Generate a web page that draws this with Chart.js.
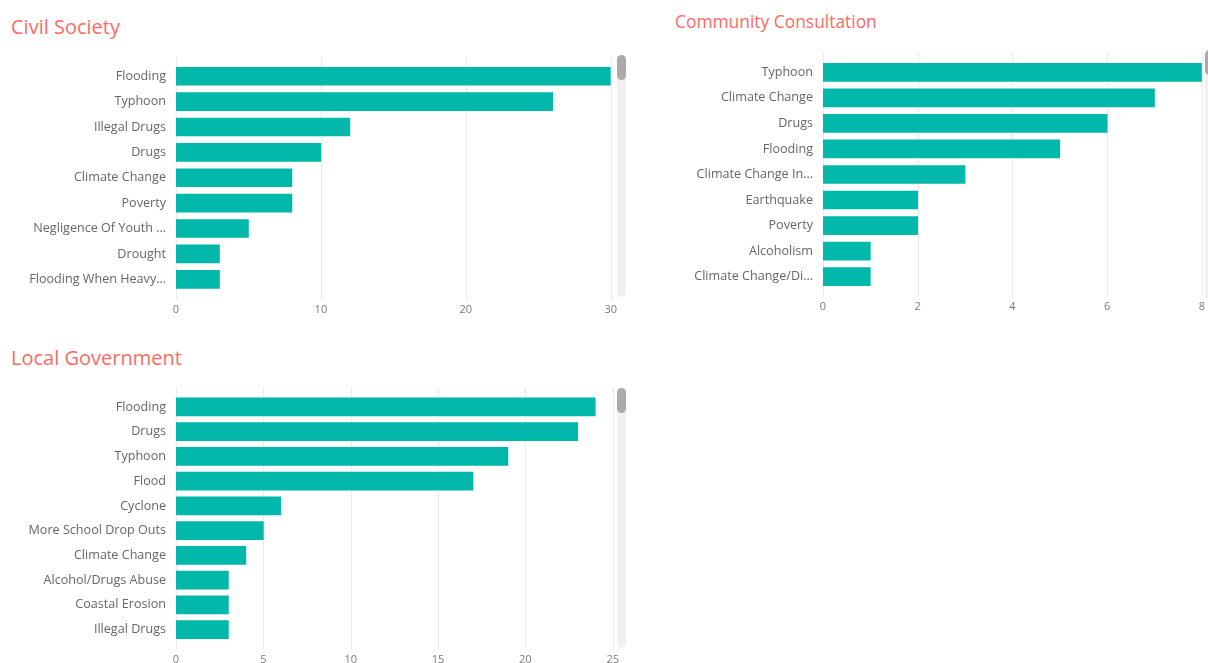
<!DOCTYPE html>
<html>
<head>
<meta charset="utf-8">
<script src="https://cdn.jsdelivr.net/npm/chart.js@4.4.1/dist/chart.umd.min.js"></script>
<style>
  html,body{margin:0;padding:0;background:#fff;width:1208px;height:663px;overflow:hidden;position:relative;font-family:"Open Sans",sans-serif}
  .title{position:absolute;color:#fd6a66;white-space:nowrap;line-height:1}
  .box{position:absolute}
  .track{position:absolute;width:9px;background:#f1f1f1;border-radius:5px}
  .thumb{position:absolute;left:0;top:0;width:9px;height:25px;background:#ababab;border-radius:5px}
</style>
</head>
<body>

<div class="title" style="left:11px;top:17px;font-size:20px">Civil Society</div>
<div class="title" style="left:675px;top:13px;font-size:17.4px">Community Consultation</div>
<div class="title" style="left:11px;top:348px;font-size:20px">Local Government</div>

<div class="box" style="left:0;top:45.6px;width:628px;height:276px"><canvas id="civil"></canvas></div>
<div class="box" style="left:660px;top:41.7px;width:556px;height:277.4px"><canvas id="community"></canvas></div>
<div class="box" style="left:0;top:376.8px;width:630px;height:295px"><canvas id="local"></canvas></div>

<div class="track" style="left:617px;top:55px;height:242px"><div class="thumb"></div></div>
<div class="track" style="left:1205px;top:50px;height:250px"><div class="thumb"></div></div>
<div class="track" style="left:617px;top:388px;height:260px"><div class="thumb"></div></div>

<script>
// ---- data ----
const civilLabels = ['Flooding','Typhoon','Illegal Drugs','Drugs','Climate Change','Poverty','Negligence Of Youth …','Drought','Flooding When Heavy…'];
const civilValues = [30, 26, 12, 10, 8, 8, 5, 3, 3];
const civilTicks  = {max: 30, step: 10};

const communityLabels = ['Typhoon','Climate Change','Drugs','Flooding','Climate Change In…','Earthquake','Poverty','Alcoholism','Climate Change/Di…'];
const communityValues = [8, 7, 6, 5, 3, 2, 2, 1, 1];
const communityTicks  = {max: 8, step: 2};

const localLabels = ['Flooding','Drugs','Typhoon','Flood','Cyclone','More School Drop Outs','Climate Change','Alcohol/Drugs Abuse','Coastal Erosion','Illegal Drugs'];
const localValues = [24, 23, 19, 17, 6, 5, 4, 3, 3, 3];
const localTicks  = {max: 25, step: 5};

const TEAL = '#01b8aa';

// vertical gridlines that run a little past the plot area, like the original
const gridPlugin = {
  id: 'longGrid',
  beforeDatasetsDraw(chart){
    const {ctx, chartArea:a, scales:{x}} = chart;
    ctx.save();
    ctx.strokeStyle = '#ebebeb';
    ctx.lineWidth = 1;
    x.ticks.forEach(t=>{
      const px = Math.round(x.getPixelForValue(t.value)) + 0.5;
      ctx.beginPath();
      ctx.moveTo(px, a.top - 7);
      ctx.lineTo(px, a.bottom + 7);
      ctx.stroke();
    });
    ctx.restore();
  }
};

function makeChart(id, labels, values, tk, yWidth){
  return new Chart(document.getElementById(id), {
    type: 'bar',
    data: { labels, datasets: [{ data: values, backgroundColor: TEAL, barThickness: 18 }] },
    options: {
      indexAxis: 'y',
      responsive: true,
      maintainAspectRatio: false,
      animation: false,
      layout: { padding: { top: 10, right: 10, left: 0, bottom: 0 } },
      plugins: { legend: { display: false }, tooltip: { enabled: false } },
      scales: {
        x: {
          min: 0, max: tk.max,
          grid: { display: false, drawTicks: false },
          border: { display: false },
          ticks: { stepSize: tk.step, padding: 11, color: '#7a7a7a', font: { family: 'Open Sans', size: 11 } },
          afterFit(s){ s.height = 30; }
        },
        y: {
          grid: { display: false, drawTicks: false },
          border: { display: false },
          ticks: { padding: 10, color: '#666', autoSkip: false, font: { family: 'Open Sans', size: 12.6 } },
          afterFit(s){ s.width = yWidth; }
        }
      }
    },
    plugins: [gridPlugin]
  });
}

makeChart('civil', civilLabels, civilValues, civilTicks, 176);
makeChart('community', communityLabels, communityValues, communityTicks, 163);
makeChart('local', localLabels, localValues, localTicks, 176);
</script>
</body>
</html>
